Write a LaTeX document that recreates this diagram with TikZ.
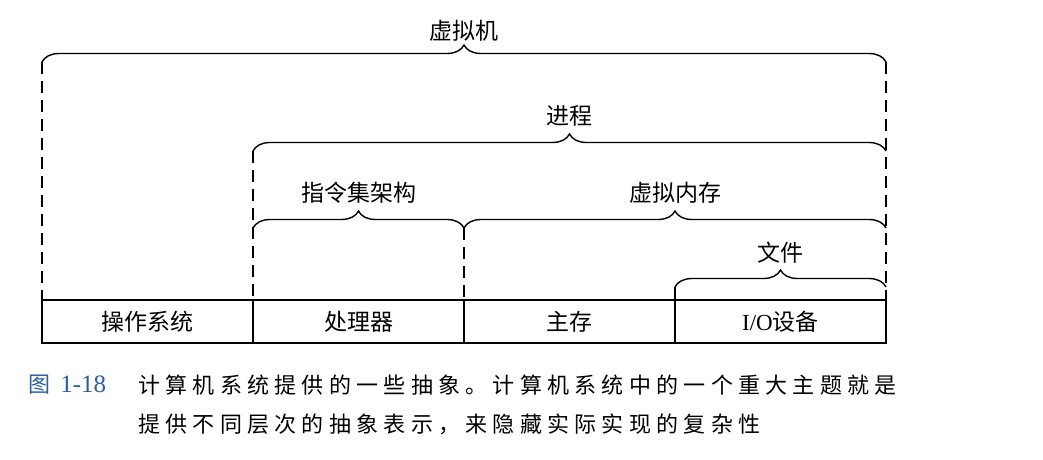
\documentclass[tikz,border=0pt]{standalone}
\usepackage{fontspec}
\setmainfont{Noto Sans CJK SC}
\newfontfamily\latinfont{Liberation Serif}
\usetikzlibrary{positioning,decorations.pathreplacing,calc}
\definecolor{figblue}{RGB}{40,95,165}

\begin{document}
\begin{tikzpicture}[
    x=1pt, y=1pt,
    node distance=0pt,
    cell/.style={rectangle, draw, line width=1.4pt, outer sep=0pt, minimum width=211pt, minimum height=43pt, inner sep=0pt, font=\fontsize{23}{27}\selectfont},
    brace/.style={decorate, decoration={brace, amplitude=17pt}, line width=1.4pt},
    guide/.style={dash pattern=on 12pt off 7pt, line width=1.4pt},
    tag/.style={font=\fontsize{23}{27}\selectfont, inner sep=0pt},
    caption/.style={font=\fontsize{22}{26}\selectfont\addfontfeature{LetterSpace=24}, anchor=west, inner sep=0pt}
]
\useasboundingbox (0,0) rectangle (1043,459);

% Hardware row
\node[cell] (os) at (147.5,137.5) {操作系统};
\node[cell, right=of os] (cpu) {处理器};
\node[cell, right=of cpu] (mem) {主存};
\node[cell, right=of mem] (io) {{\latinfont I/O}设备};

% Brace end points
\coordinate (vm-l) at ($(os.north west)+(0,238)$);
\coordinate (vm-r) at ($(io.north east)+(0,238)$);
\coordinate (proc-l) at ($(cpu.north west)+(0,149)$);
\coordinate (proc-r) at ($(io.north east)+(0,149)$);
\coordinate (isa-l) at ($(cpu.north west)+(0,72)$);
\coordinate (isa-r) at ($(mem.north west)+(0,72)$);
\coordinate (vmem-l) at ($(mem.north west)+(0,72)$);
\coordinate (vmem-r) at ($(io.north east)+(0,72)$);
\coordinate (file-l) at ($(io.north west)+(0,13)$);
\coordinate (file-r) at ($(io.north east)+(0,13)$);

% Abstractions
\draw[brace] (vm-l) -- (vm-r) node[tag, midway, yshift=31pt] (vm) {虚拟机};
\draw[brace] (proc-l) -- (proc-r) node[tag, midway, yshift=35pt] (proc) {进程};
\draw[brace] (isa-l) -- (isa-r) node[tag, midway, yshift=35pt] (isa) {指令集架构};
\draw[brace] (vmem-l) -- (vmem-r) node[tag, midway, yshift=35pt] (vmem) {虚拟内存};
\draw[brace] (file-l) -- (file-r) node[tag, midway, yshift=34pt] (file) {文件};

% Dashed guides
\draw[guide] (vm-l) -- (os.north west);
\draw[guide] (vm-r) -- (io.north east);
\draw[guide] (proc-l) -- (cpu.north west);
\draw[guide] (isa-r) -- (mem.north west);
\draw[guide] (file-l) -- (io.north west);

% Caption
\node[caption, text=figblue] (fignum) at (28,74) {图 {\latinfont\fontsize{25}{28}\selectfont 1-18}};
\node[caption] (cap1) at (138,74) {计算机系统提供的一些抽象。计算机系统中的一个重大主题就是};
\node[caption] (cap2) at (138,35) {提供不同层次的抽象表示，来隐藏实际实现的复杂性};

\end{tikzpicture}
\end{document}
